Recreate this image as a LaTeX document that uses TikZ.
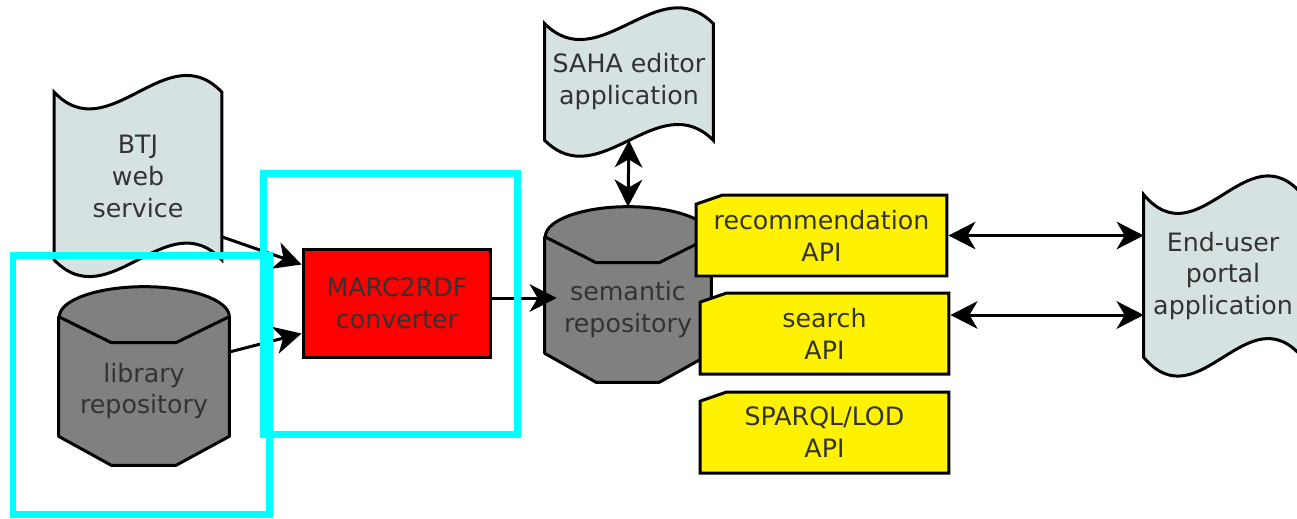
\documentclass[tikz,border=0pt]{standalone}
\usepackage{fontspec}
\setmainfont{DejaVu Sans}
\usetikzlibrary{shapes.misc,arrows.meta,backgrounds}

\definecolor{tapefill}{RGB}{214,226,226}
\definecolor{repofill}{RGB}{128,128,128}
\definecolor{focuscyan}{RGB}{0,255,255}

\tikzset{
  doc/.style={rectangle, align=center, inner sep=0pt},
  docline/.style={draw, line width=0.06cm, fill=tapefill},
  repo/.style={rectangle, align=center, inner sep=0pt},
  repoline/.style={draw, line width=0.06cm, fill=repofill, line join=round},
  conv/.style={rectangle, draw, line width=0.06cm, fill=red, align=center},
  api/.style={chamfered rectangle, chamfered rectangle corners=north west,
    chamfered rectangle angle=71, chamfered rectangle xsep=0.16cm,
    draw, line width=0.06cm, fill=yellow, align=center,
    minimum height=1.62cm, inner sep=0pt},
  tip/.tip={Stealth[length=0.54cm, width=0.55cm, inset=0.16cm]},
  link/.style={line width=0.06cm, -tip},
  both/.style={line width=0.06cm, tip-tip},
  focus/.style={draw=focuscyan, line width=0.14cm}
}

\begin{document}
\begin{tikzpicture}[x=0.02cm, y=-0.02cm, font=\fontsize{14.4}{18.2}\selectfont, text=black!80]

\clip (0,0) rectangle (1297,518);

% sources
\node[doc, minimum width=3.34cm, minimum height=3.34cm] (btj) at (138,176) {BTJ\\web\\service};
\node[repo, minimum width=3.4cm, minimum height=2.96cm] (lib) at (144,391) {library\\repository};

% converter
\node[conv, minimum width=3.76cm, minimum height=2.18cm] (marc) at (397,303.5) {MARC2RDF\\converter};

% repository and editor
\node[doc, minimum width=3.36cm, minimum height=2.32cm] (saha) at (629,82) {SAHA editor\\application};
\node[repo, minimum width=3.32cm, minimum height=2.9cm] (sem) at (628,309.5) {semantic\\repository};

% APIs
\node[api, minimum width=5.02cm] (rec) at (821.5,235.5) {recommendation\\API};
\node[api, minimum width=4.98cm] (search) at (824.5,333.5) {search\\API};
\node[api, minimum width=4.98cm] (sparql) at (824.5,432.5) {SPARQL/LOD\\API};

% portal
\node[doc, minimum width=3.16cm, minimum height=3.24cm] (portal) at (1223,276) {End-user\\portal\\application};

% sheets and drums behind the texts
\begin{scope}[on background layer]
\foreach \n/\a in {btj/58, saha/55, portal/65}
  \draw[docline] (\n.north west) .. controls +(55,\a) and +(-55,-\a) .. (\n.north east)
    -- (\n.south east) .. controls +(-55,-\a) and +(55,\a) .. (\n.south west) -- cycle;
\foreach \n/\w/\r in {lib/170/1.7cm, sem/166/1.66cm} {
  \draw[repoline] (\n.north west) -- ([yshift=0.58cm]\n.south west) -- +({0.31*\w},29)
    -- +({0.69*\w},29) -- ([yshift=0.58cm]\n.south east) -- (\n.north east)
    arc[start angle=0, end angle=180, x radius=\r, y radius=0.6cm] -- cycle;
  \draw[repoline, fill=none] (\n.north west) -- +({0.31*\w},26) -- +({0.69*\w},26) -- (\n.north east);
}
\end{scope}

% connectors
\draw[link] ([yshift=0.46cm]btj.south east) -- ([yshift=-0.34cm]marc.north west);
\draw[link] ([yshift=0.78cm]lib.east) -- ([yshift=0.52cm]marc.south west);
\draw[link] ([yshift=0.11cm]marc.east) -- ([xshift=0.24cm, yshift=0.11cm]marc.east -| sem.west);
\draw[both] (saha.south) -- ([yshift=0.6cm]sem.north);
\draw[both] (rec.east) -- (rec.east -| portal.west);
\draw[both] ([yshift=0.37cm]search.east) -- ([yshift=0.37cm]search.east -| portal.west);

% highlight frames
\draw[focus] (13,255) rectangle (269,514);
\draw[focus] (263,173) rectangle (517,434);

\end{tikzpicture}
\end{document}
